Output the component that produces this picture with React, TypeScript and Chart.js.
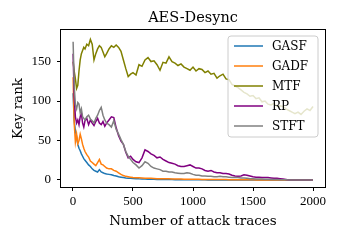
import React, { useEffect, useRef } from "react";
import { Chart, registerables } from "chart.js";

Chart.register(...registerables);

// x positions (number of attack traces)
const traces = [
  1, 10, 20, 30, 40, 50, 60, 70, 80, 90,
  100, 115, 130, 145, 160, 175, 190, 205, 220, 235,
  250, 265, 280, 300, 320, 340, 360, 380, 400, 420,
  440, 460, 480, 500, 525, 550, 575, 600, 625, 650,
  675, 700, 725, 750, 775, 800, 825, 850, 875, 900,
  925, 950, 975, 1000, 1025, 1050, 1075, 1100, 1125, 1150,
  1175, 1200, 1225, 1250, 1275, 1300, 1325, 1350, 1375, 1400,
  1425, 1450, 1475, 1500, 1525, 1550, 1575, 1600, 1625, 1650,
  1675, 1700, 1725, 1750, 1775, 1800, 1825, 1850, 1875, 1900,
  1925, 1950, 1975, 2000,
];

const gasf = [
  110, 75, 62, 55, 45, 40, 37, 33, 30, 27,
  25, 22, 19, 17, 14, 12, 11, 10, 13, 10,
  9, 8, 7.5, 7, 6.5, 5.5, 5, 4, 3.5, 3,
  2.5, 2.2, 2, 1.8, 1.5, 1.3, 1.2, 1, 0.9, 0.8,
  0.7, 0.6, 0.5, 0.5, 0.4, 0.4, 0.35, 0.3, 0.3, 0.25,
  0.2, 0.2, 0.15, 0.1, 0.1, 0.1, 0.1, 0.1, 0, 0,
  0, 0, 0, 0, 0, 0, 0, 0, 0, 0,
  0, 0, 0, 0, 0, 0, 0, 0, 0, 0,
  0, 0, 0, 0, 0, 0, 0, 0, 0, 0,
  0, 0, 0, 0,
];

const gadf = [
  130, 72, 48, 58, 46, 50, 58, 52, 45, 40,
  36, 32, 29, 24, 22, 20, 18, 22, 26, 20,
  19, 17, 15, 14, 14, 12, 11, 9, 7, 5.5,
  4.5, 4, 3.5, 3, 2.8, 2.6, 2.4, 2.2, 2.2, 2,
  1.8, 1.6, 1.5, 1.5, 1.4, 1.3, 1.2, 1.1, 1, 1,
  0.9, 0.9, 0.8, 0.8, 0.7, 0.7, 0.6, 0.6, 0.5, 0.5,
  0.5, 0.5, 0.4, 0.4, 0.4, 0.3, 0.3, 0.3, 0.2, 0.2,
  0.2, 0.2, 0.1, 0.1, 0, 0, 0, 0, 0, 0,
  0, 0, 0, 0, 0, 0, 0, 0, 0, 0,
  0, 0, 0, 0,
];

const mtf = [
  150, 138, 128, 116, 120, 138, 152, 160, 164, 168,
  166, 172, 170, 178, 172, 152, 160, 166, 170, 168,
  162, 156, 160, 166, 170, 168, 171, 168, 163, 152,
  141, 131, 134, 136, 133, 146, 144, 152, 155, 150,
  151, 146, 139, 149, 148, 156, 150, 148, 145, 147,
  143, 141, 139, 143, 138, 141, 140, 136, 138, 134,
  135, 129, 132, 134, 128, 127, 121, 119, 117, 114,
  111, 109, 106, 107, 103, 104, 99, 100, 96, 95,
  97, 93, 94, 93, 90, 88, 86, 84, 86, 83,
  87, 90, 88, 93,
];

const rp = [
  160, 105, 80, 72, 76, 70, 80, 84, 72, 67,
  75, 78, 70, 76, 72, 69, 74, 78, 72, 70,
  74, 68, 72, 76, 80, 79, 66, 56, 49, 45,
  35, 28, 30, 26, 23, 22, 28, 38, 36, 33,
  31, 28, 29, 26, 24, 22, 21, 20, 18, 17,
  17, 18, 19, 17, 15, 15, 14, 12, 11, 12,
  10, 9, 9, 8, 8, 7.5, 6, 5, 4.5, 5,
  6.5, 6, 5, 4, 3.5, 3.5, 3, 3, 3, 2.5,
  2, 2, 1.5, 1, 0.5, 0, 0, 0, 0, 0,
  0, 0, 0, 0,
];

const stft = [
  175, 120, 95, 90, 98, 96, 85, 90, 80, 78,
  76, 80, 82, 77, 75, 72, 78, 82, 88, 92,
  82, 76, 72, 70, 67, 75, 64, 58, 51, 45,
  36, 30, 26, 22, 19, 15, 18, 23, 21, 17,
  15, 14, 13, 11, 11, 10, 10, 9, 8.5, 8,
  8, 9, 8.5, 7, 6, 6, 5, 5, 4.5, 4.5,
  4, 4, 4.5, 4, 4, 3.5, 3, 3, 3, 2.5,
  2.5, 2, 1.5, 1.5, 1.2, 1, 1, 0.8, 0.7, 0.6,
  0.5, 0.4, 0.3, 0.2, 0.1, 0, 0, 0, 0, 0,
  0, 0, 0, 0,
];

const seriesNames = ["GASF", "GADF", "MTF", "RP", "STFT"];
const seriesValues = [gasf, gadf, mtf, rp, stft];
const seriesColors = ["#1f77b4", "#ff7f0e", "#808000", "#800080", "#808080"];

const xTicks = [0, 500, 1000, 1500, 2000];
const yTicks = [0, 50, 100, 150];

const titleText = "AES-Desync";
const xLabel = "Number of attack traces";
const yLabel = "Key rank";

const SERIF = "'DejaVu Serif', serif";
const TICK_FONT = "'Liberation Serif', serif";

const decorPlugin = {
  id: "decor",
  afterDraw(chart: any) {
    const { ctx, chartArea } = chart;
    const { left, top, right, bottom } = chartArea;
    ctx.save();
    // frame
    ctx.strokeStyle = "#000";
    ctx.lineWidth = 1;
    ctx.strokeRect(
      Math.round(left) - 0.5,
      Math.round(top) - 0.5,
      Math.round(right - left) + 1,
      Math.round(bottom - top) + 1
    );
    // title
    ctx.fillStyle = "#000";
    ctx.textAlign = "center";
    ctx.textBaseline = "alphabetic";
    ctx.font = `14.5px ${SERIF}`;
    ctx.fillText(titleText, (left + right) / 2, 22);
    // x label
    ctx.font = `13.5px ${SERIF}`;
    ctx.fillText(xLabel, (left + right) / 2, 225);
    // y label
    ctx.save();
    ctx.translate(21.5, (top + bottom) / 2);
    ctx.rotate(-Math.PI / 2);
    ctx.fillText(yLabel, 0, 0);
    ctx.restore();

    // legend
    const lx = 228, ly = 36, lw = 90, lh = 101, r = 3;
    ctx.beginPath();
    ctx.moveTo(lx + r, ly);
    ctx.lineTo(lx + lw - r, ly);
    ctx.arcTo(lx + lw, ly, lx + lw, ly + r, r);
    ctx.lineTo(lx + lw, ly + lh - r);
    ctx.arcTo(lx + lw, ly + lh, lx + lw - r, ly + lh, r);
    ctx.lineTo(lx + r, ly + lh);
    ctx.arcTo(lx, ly + lh, lx, ly + lh - r, r);
    ctx.lineTo(lx, ly + r);
    ctx.arcTo(lx, ly, lx + r, ly, r);
    ctx.closePath();
    ctx.fillStyle = "rgba(255,255,255,0.8)";
    ctx.fill();
    ctx.strokeStyle = "#cccccc";
    ctx.lineWidth = 1;
    ctx.stroke();

    ctx.font = `12px ${SERIF}`;
    ctx.textAlign = "left";
    ctx.textBaseline = "middle";
    seriesNames.forEach((name, i) => {
      const cy = 46 + i * 20;
      ctx.strokeStyle = seriesColors[i];
      ctx.lineWidth = 1.5;
      ctx.beginPath();
      ctx.moveTo(234, cy);
      ctx.lineTo(263, cy);
      ctx.stroke();
      ctx.fillStyle = "#000";
      ctx.fillText(name, 272, cy + 1);
    });
    ctx.restore();
  },
};

export default function App() {
  const ref = useRef<HTMLCanvasElement>(null);
  useEffect(() => {
    if (!ref.current) return;
    const chart = new Chart(ref.current, {
      type: "line",
      data: {
        datasets: seriesNames.map((name, i) => ({
          label: name,
          data: traces.map((x, j) => ({ x, y: seriesValues[i][j] })),
          borderColor: seriesColors[i],
          backgroundColor: seriesColors[i],
          borderWidth: 1.5,
          pointRadius: 0,
          tension: 0,
          fill: false,
          order: seriesNames.length - i,
        })),
      },
      options: {
        animation: false,
        responsive: false,
        maintainAspectRatio: false,
        layout: { padding: { top: 30, right: 15, left: 0, bottom: 0 } },
        plugins: {
          legend: { display: false },
          tooltip: { enabled: false },
          title: { display: false },
        },
        scales: {
          x: {
            type: "linear",
            min: -99.95,
            max: 2099.95,
            afterBuildTicks: (scale: any) => {
              scale.ticks = xTicks.map((v) => ({ value: v }));
            },
            afterFit: (scale: any) => {
              scale.height = 53;
            },
            grid: {
              display: true,
              drawOnChartArea: false,
              drawTicks: true,
              tickLength: 4,
              color: "#000",
            },
            border: { display: false },
            ticks: {
              autoSkip: false,
              maxRotation: 0,
              padding: 3,
              color: "#000",
              font: { family: TICK_FONT, size: 13 },
              callback: (v: any) => String(v),
            },
          },
          y: {
            type: "linear",
            min: -9,
            max: 190,
            afterBuildTicks: (scale: any) => {
              scale.ticks = yTicks.map((v) => ({ value: v }));
            },
            afterFit: (scale: any) => {
              scale.width = 61;
            },
            grid: {
              display: true,
              drawOnChartArea: false,
              drawTicks: true,
              tickLength: 4,
              color: "#000",
            },
            border: { display: false },
            ticks: {
              autoSkip: false,
              padding: 6,
              color: "#000",
              font: { family: TICK_FONT, size: 13 },
              callback: (v: any) => String(v),
            },
          },
        },
      },
      plugins: [decorPlugin],
    } as any);
    return () => chart.destroy();
  }, []);
  return (
    <div style={{ position: "absolute", left: 0, top: 0, width: 340, height: 240 }}>
      <canvas ref={ref} width={340} height={240} style={{ display: "block", width: 340, height: 240 }} />
    </div>
  );
}
